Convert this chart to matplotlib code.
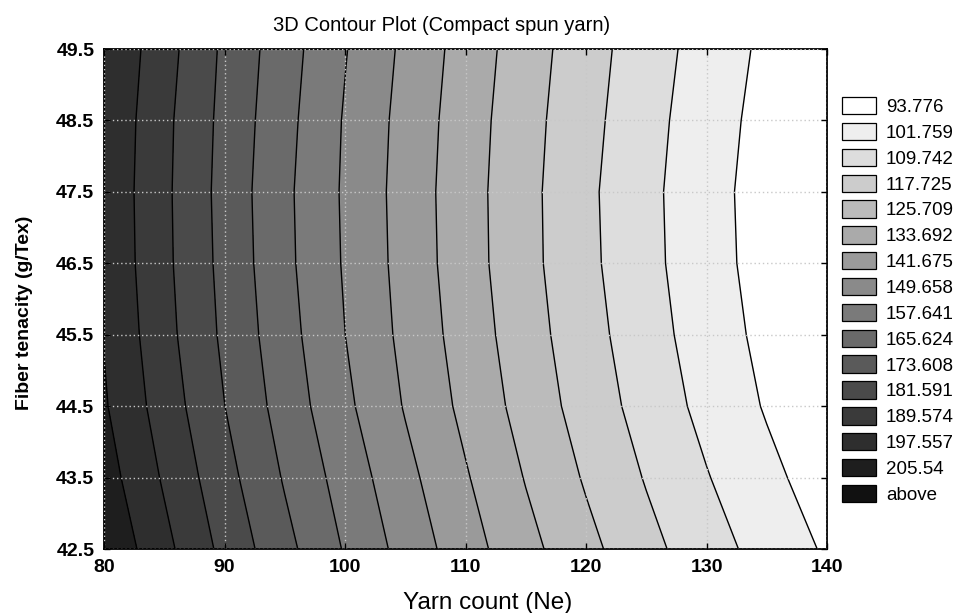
import numpy as np
import matplotlib
matplotlib.use('Agg')
import matplotlib.pyplot as plt
from matplotlib.patches import Patch

# response surface (rows = fiber tenacity, cols = yarn count)
yarn_count = [80, 85, 90, 95, 100, 105, 110, 115, 120, 125, 130, 135, 140]
fiber_tenacity = [42.5, 43.5, 44.5, 45.5, 46.5, 47.5, 48.5, 49.5]

z_425 = [204.5, 191.8, 179.4, 168.0, 157.0, 146.8, 137.1, 128.2, 120.0, 112.2, 105.1, 98.8, 92.8]
z_435 = [201.1, 188.6, 176.4, 164.9, 154.3, 144.0, 134.4, 125.3, 116.9, 109.2, 102.2, 95.8, 89.9]
z_445 = [198.4, 185.9, 173.7, 162.3, 151.4, 141.1, 131.7, 122.7, 114.3, 106.6, 99.5, 93.1, 87.6]
z_455 = [197.2, 184.2, 172.1, 160.7, 149.7, 139.6, 130.2, 121.2, 112.8, 105.0, 98.0, 91.6, 86.1]
z_465 = [196.2, 183.4, 171.3, 159.6, 148.9, 138.8, 129.2, 120.2, 111.7, 104.0, 97.0, 90.6, 85.2]
z_475 = [195.9, 183.2, 170.9, 159.3, 148.6, 138.5, 129.0, 120.1, 111.4, 103.8, 96.7, 90.4, 85.0]
z_485 = [196.4, 183.5, 171.4, 160.1, 149.0, 139.0, 129.5, 120.6, 112.2, 104.5, 97.4, 91.1, 85.6]
z_495 = [197.3, 184.7, 172.1, 161.1, 150.1, 140.0, 130.4, 121.5, 113.1, 105.4, 98.5, 92.1, 86.6]

levels = [93.776, 101.759, 109.742, 117.725, 125.709, 133.692, 141.675, 149.658,
          157.641, 165.624, 173.608, 181.591, 189.574, 197.557, 205.54]
legend_labels = ['93.776', '101.759', '109.742', '117.725', '125.709', '133.692',
                 '141.675', '149.658', '157.641', '165.624', '173.608', '181.591',
                 '189.574', '197.557', '205.54', 'above']

# gray shades, light -> dark (one per legend entry)
grays = ['#ffffff', '#eeeeee', '#dddddd', '#cccccc', '#bbbbbb', '#aaaaaa',
         '#9a9a9a', '#8a8a8a', '#7a7a7a', '#6a6a6a', '#5a5a5a', '#4a4a4a',
         '#3a3a3a', '#2e2e2e', '#1e1e1e', '#111111']

Z = np.array([z_425, z_435, z_445, z_455, z_465, z_475, z_485, z_495])
X, Y = np.meshgrid(yarn_count, fiber_tenacity)

plt.rcParams['font.family'] = ['Liberation Sans', 'DejaVu Sans']

fig = plt.figure(figsize=(9.61, 6.13), dpi=100)
ax = fig.add_axes([104/961, 1-549/613, 723/961, 500/613])

ax.contourf(X, Y, Z, levels=levels, colors=grays, extend='both')
ax.contour(X, Y, Z, levels=levels, colors='black', linewidths=1.0)

ax.set_xlim(80, 140)
ax.set_ylim(42.5, 49.5)
ax.set_xticks([80, 90, 100, 110, 120, 130, 140])
ax.set_yticks([42.5, 43.5, 44.5, 45.5, 46.5, 47.5, 48.5, 49.5])
ax.set_yticklabels(['42.5', '43.5', '44.5', '45.5', '46.5', '47.5', '48.5', '49.5'])
ax.grid(True, color='#c8c8c8', linestyle=(0, (1, 2)), linewidth=1.0)
ax.set_axisbelow(False)
ax.tick_params(direction='in', length=4, width=1, top=True, right=True,
               labelsize=14, pad=7)
for lab in ax.get_xticklabels() + ax.get_yticklabels():
    lab.set_fontweight('bold')
for sp in ax.spines.values():
    sp.set_linewidth(1.3)

ax.set_title('3D Contour Plot (Compact spun yarn)', fontsize=14.5, x=0.4675, pad=13)
ax.set_xlabel('Yarn count (Ne)', fontsize=17.5)
ax.xaxis.set_label_coords(0.53, -0.086)
ax.set_ylabel('Fiber tenacity (g/Tex)', fontsize=14, fontweight='bold')
ax.yaxis.set_label_coords(-0.098, 0.472)

handles = [Patch(facecolor=g, edgecolor='black', linewidth=0.9) for g in grays]
fig.legend(handles, legend_labels, loc='upper left',
           bbox_to_anchor=(842/961, 1-97/613), frameon=False, fontsize=13.5,
           handlelength=1.8, handleheight=1.05, labelspacing=0.36,
           handletextpad=0.55, borderpad=0, borderaxespad=0)

fig.savefig('out.png', dpi=100)
